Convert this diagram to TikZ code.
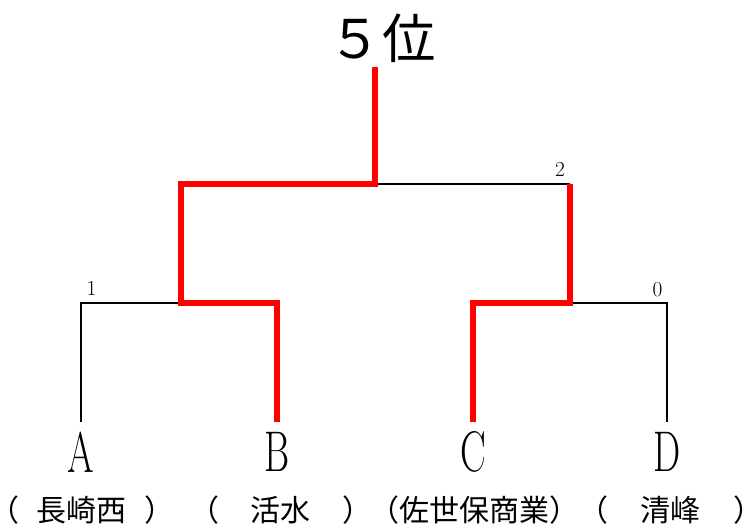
\documentclass[tikz,border=0pt]{standalone}
\usepackage{fontspec}
\newfontfamily\jpfont{Noto Sans CJK JP}
\usetikzlibrary{positioning}

\begin{document}
\begin{tikzpicture}[
  x=0.75pt, y=-0.75pt,
  title/.style={inner sep=0pt, font=\jpfont\fontsize{40}{40}\selectfont},
  team/.style={inner sep=0pt, font=\fontsize{43}{43}\selectfont},
  school/.style={inner sep=0pt, font=\jpfont\fontsize{22.5}{22.5}\selectfont},
  score/.style={inner sep=0pt, font=\fontsize{16}{16}\selectfont},
  lose/.style={line width=2.2pt},
  win/.style={draw=red, line width=5.2pt}
]
  \useasboundingbox (0,0) rectangle (746,529);

  \node[title] (rank) at (382,38) {５位};

  \node[team] (A) at (81,452) {\scalebox{0.67}[1]{A}};
  \node[team] (B) at (277,452) {\scalebox{0.67}[1]{B}};
  \node[team] (C) at (473,452) {\scalebox{0.67}[1]{C}};
  \node[team] (D) at (667,452) {\scalebox{0.67}[1]{D}};

  \node[school] (sA) at (82,510) {\makebox[139pt]{（\hfill 長崎西\hfill ）}};
  \node[school] (sB) at (281,510) {\makebox[137pt]{（\hfill 活水\hfill ）}};
  \node[school] (sC) at (474,510) {（佐世保商業）};
  \node[school] (sD) at (671,510) {\makebox[139pt]{（\hfill 清峰\hfill ）}};

  \coordinate (a) at (81,422);
  \coordinate (b) at (277,422);
  \coordinate (c) at (473,422);
  \coordinate (d) at (667,422);
  \coordinate (ab) at (181,303);
  \coordinate (cd) at (570,303);
  \coordinate (final) at (375,184);
  \coordinate (top) at (375,67);

  \node[score] (s1) at (91.5,288) {1};
  \node[score] (s2) at (560,169.5) {2};
  \node[score] (s0) at (657.5,289.5) {0};

  \draw[lose] (a) |- (ab);
  \draw[lose] (d) |- (cd);
  \draw[lose] (final) -- (final -| cd);
  \draw[win] (top) -- (final) -| (ab) -| (b);
  \draw[win] (final -| cd) -- (cd) -| (c);
\end{tikzpicture}
\end{document}
